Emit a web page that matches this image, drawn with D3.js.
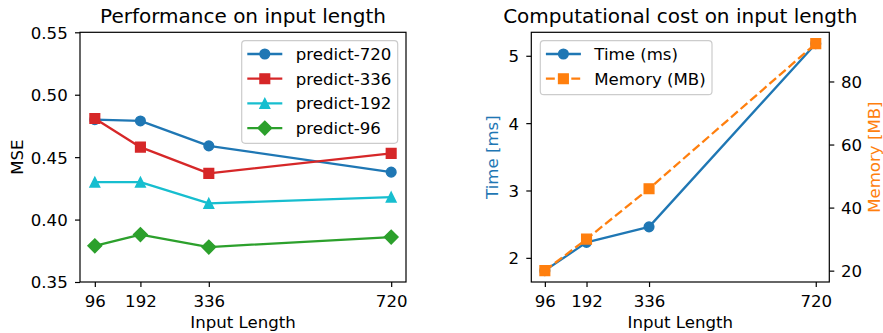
<!DOCTYPE html>
<html>
<head>
<meta charset="utf-8">
<script src="https://cdn.jsdelivr.net/npm/d3@7"></script>
<style>
  body { margin: 0; background: #fff; }
  text { font-family: "DejaVu Sans", sans-serif; }
</style>
</head>
<body>
<div id="chart"></div>
<script>
// data
const inputLengths = [96, 192, 336, 720];
const seriesNames = ["predict-720", "predict-336", "predict-192", "predict-96"];
const mse720 = [0.480, 0.479, 0.459, 0.438];
const mse336 = [0.481, 0.458, 0.437, 0.453];
const mse192 = [0.430, 0.430, 0.413, 0.418];
const mse96 = [0.379, 0.388, 0.378, 0.386];
const timeMs = [1.81, 2.23, 2.46, 5.18];
const memoryMb = [20, 30, 46, 92];
const mseTicks = [0.35, 0.40, 0.45, 0.50, 0.55];
const timeTicks = [2, 3, 4, 5];
const memTicks = [20, 40, 60, 80];

const W = 883, H = 333;
const fontSize = 16.6, titleSize = 20;
const lw = 2.3, ms = 9.6, mew = 1.5, tickLen = 5;

const svg = d3.select("#chart").append("svg")
    .attr("width", W).attr("height", H);

// matplotlib style 5% margins
function padded(ext) {
    const p = (ext[1] - ext[0]) * 0.05;
    return [ext[0] - p, ext[1] + p];
}

function markerPath(shape, s) {
    const h = s / 2;
    if (shape === "circle") return `M${h},0A${h},${h} 0 1,1 ${-h},0A${h},${h} 0 1,1 ${h},0Z`;
    if (shape === "square") return `M${-h},${-h}h${s}v${s}h${-s}Z`;
    if (shape === "triangle") return `M0,${-h}L${h},${h}L${-h},${h}Z`;
    const d = h * Math.SQRT2;
    return `M0,${-d}L${d},0L0,${d}L${-d},0Z`;
}

function drawSeries(g, x, y, values, color, shape, dash) {
    const line = d3.line().x((d, i) => x(inputLengths[i])).y(d => y(d));
    g.append("path")
        .attr("d", line(values))
        .attr("fill", "none")
        .attr("stroke", color)
        .attr("stroke-width", lw)
        .attr("stroke-linejoin", "round")
        .attr("stroke-dasharray", dash ? dash : null);
    g.selectAll(null)
        .data(values)
        .join("path")
        .attr("transform", (d, i) => `translate(${x(inputLengths[i])},${y(d)})`)
        .attr("d", markerPath(shape, ms))
        .attr("fill", color)
        .attr("stroke", color)
        .attr("stroke-width", mew);
}

function styleAxis(a) {
    a.select(".domain").remove();
    a.selectAll(".tick line").attr("stroke", "#000").attr("stroke-width", 1.2);
    a.selectAll(".tick text").attr("fill", "#000").style("font-size", fontSize + "px")
        .style("font-family", "DejaVu Sans");
}

function legend(g, x0, y0, w, h, items) {
    const lg = g.append("g");
    lg.append("rect")
        .attr("x", x0).attr("y", y0).attr("width", w).attr("height", h)
        .attr("rx", 3.5)
        .attr("fill", "#fff").attr("fill-opacity", 0.8)
        .attr("stroke", "#cccccc").attr("stroke-width", 1.2);
    items.forEach((it, i) => {
        const cy = y0 + 13.3 + i * 24.7;
        const hx = x0 + 5.6;
        lg.append("line")
            .attr("x1", hx).attr("x2", hx + 35).attr("y1", cy).attr("y2", cy)
            .attr("stroke", it.color).attr("stroke-width", lw)
            .attr("stroke-dasharray", it.dash ? it.dash : null);
        lg.append("path")
            .attr("transform", `translate(${hx + 17.5},${cy})`)
            .attr("d", markerPath(it.shape, ms))
            .attr("fill", it.color).attr("stroke", it.color).attr("stroke-width", mew);
        lg.append("text")
            .attr("x", x0 + 54).attr("y", cy + 6)
            .style("font-size", fontSize + "px")
            .attr("fill", "#000")
            .text(it.label);
    });
}

// ---------- left panel: performance ----------
const p1 = { left: 80, top: 32.3, width: 326, height: 249.7 };
const g1 = svg.append("g").attr("transform", `translate(${p1.left},${p1.top})`);

const x1 = d3.scaleLinear().domain(padded(d3.extent(inputLengths))).range([0, p1.width]);
const y1 = d3.scaleLinear().domain([0.35, 0.55]).range([p1.height, 0]);

const colors1 = ["#1f77b4", "#d62728", "#17becf", "#2ca02c"];
const shapes1 = ["circle", "square", "triangle", "diamond"];
const mseSeries = [mse720, mse336, mse192, mse96];

mseSeries.forEach((vals, i) => drawSeries(g1, x1, y1, vals, colors1[i], shapes1[i]));

const ax1 = g1.append("g").attr("transform", `translate(0,${p1.height})`)
    .call(d3.axisBottom(x1).tickValues(inputLengths).tickSize(tickLen).tickFormat(d3.format("d")));
styleAxis(ax1);
ax1.selectAll(".tick text").attr("y", 24.5).attr("dy", 0);

const ay1 = g1.append("g")
    .call(d3.axisLeft(y1).tickValues(mseTicks).tickSize(tickLen).tickPadding(7.3).tickFormat(d3.format(".2f")));
styleAxis(ay1);
ay1.selectAll(".tick text").attr("dy", "0.36em");

g1.append("rect").attr("width", p1.width).attr("height", p1.height)
    .attr("fill", "none").attr("stroke", "#000").attr("stroke-width", 1.2);

g1.append("text")
    .attr("x", p1.width / 2).attr("y", 23 - p1.top)
    .attr("text-anchor", "middle").style("font-size", titleSize + "px")
    .text("Performance on input length");
g1.append("text")
    .attr("x", p1.width / 2).attr("y", 328 - p1.top)
    .attr("text-anchor", "middle").style("font-size", fontSize + "px")
    .text("Input Length");
g1.append("text")
    .attr("transform", `translate(${22.7 - p1.left},${p1.height / 2}) rotate(-90)`)
    .attr("text-anchor", "middle").style("font-size", fontSize + "px")
    .text("MSE");

legend(g1, 241.7 - p1.left, 40.7 - p1.top, 156, 102.6,
    seriesNames.map((s, i) => ({ label: s, color: colors1[i], shape: shapes1[i] })));

// ---------- right panel: computational cost ----------
const p2 = { left: 531.3, top: 32.3, width: 298, height: 249.7 };
const g2 = svg.append("g").attr("transform", `translate(${p2.left},${p2.top})`);

const x2 = d3.scaleLinear().domain(padded(d3.extent(inputLengths))).range([0, p2.width]);
const yTime = d3.scaleLinear().domain(padded(d3.extent(timeMs))).range([p2.height, 0]);
const yMem = d3.scaleLinear().domain(padded(d3.extent(memoryMb))).range([p2.height, 0]);

const timeColor = "#1f77b4", memColor = "#ff7f0e";
drawSeries(g2, x2, yTime, timeMs, timeColor, "circle");
drawSeries(g2, x2, yMem, memoryMb, memColor, "square", "8.9,3.8");

const ax2 = g2.append("g").attr("transform", `translate(0,${p2.height})`)
    .call(d3.axisBottom(x2).tickValues(inputLengths).tickSize(tickLen).tickFormat(d3.format("d")));
styleAxis(ax2);
ax2.selectAll(".tick text").attr("y", 24.5).attr("dy", 0);

const ay2 = g2.append("g")
    .call(d3.axisLeft(yTime).tickValues(timeTicks).tickSize(tickLen).tickPadding(7.3).tickFormat(d3.format("d")));
styleAxis(ay2);
ay2.selectAll(".tick text").attr("dy", "0.36em");

const ay3 = g2.append("g").attr("transform", `translate(${p2.width},0)`)
    .call(d3.axisRight(yMem).tickValues(memTicks).tickSize(tickLen).tickPadding(6.7).tickFormat(d3.format("d")));
styleAxis(ay3);
ay3.selectAll(".tick text").attr("dy", "0.36em");

g2.append("rect").attr("width", p2.width).attr("height", p2.height)
    .attr("fill", "none").attr("stroke", "#000").attr("stroke-width", 1.2);

g2.append("text")
    .attr("x", p2.width / 2).attr("y", 23 - p2.top)
    .attr("text-anchor", "middle").style("font-size", titleSize + "px")
    .text("Computational cost on input length");
g2.append("text")
    .attr("x", p2.width / 2).attr("y", 328 - p2.top)
    .attr("text-anchor", "middle").style("font-size", fontSize + "px")
    .text("Input Length");
g2.append("text")
    .attr("transform", `translate(${498.4 - p2.left},${p2.height / 2}) rotate(-90)`)
    .attr("text-anchor", "middle").style("font-size", fontSize + "px")
    .attr("fill", timeColor)
    .text("Time [ms]");
g2.append("text")
    .attr("transform", `translate(${880 - p2.left},${p2.height / 2}) rotate(-90)`)
    .attr("text-anchor", "middle").style("font-size", fontSize + "px")
    .attr("fill", memColor)
    .text("Memory [MB]");

legend(g2, 540.3 - p2.left, 40.7 - p2.top, 171.7, 54, [
    { label: "Time (ms)", color: timeColor, shape: "circle" },
    { label: "Memory (MB)", color: memColor, shape: "square", dash: "8.9,3.8" }
]);
</script>
</body>
</html>
